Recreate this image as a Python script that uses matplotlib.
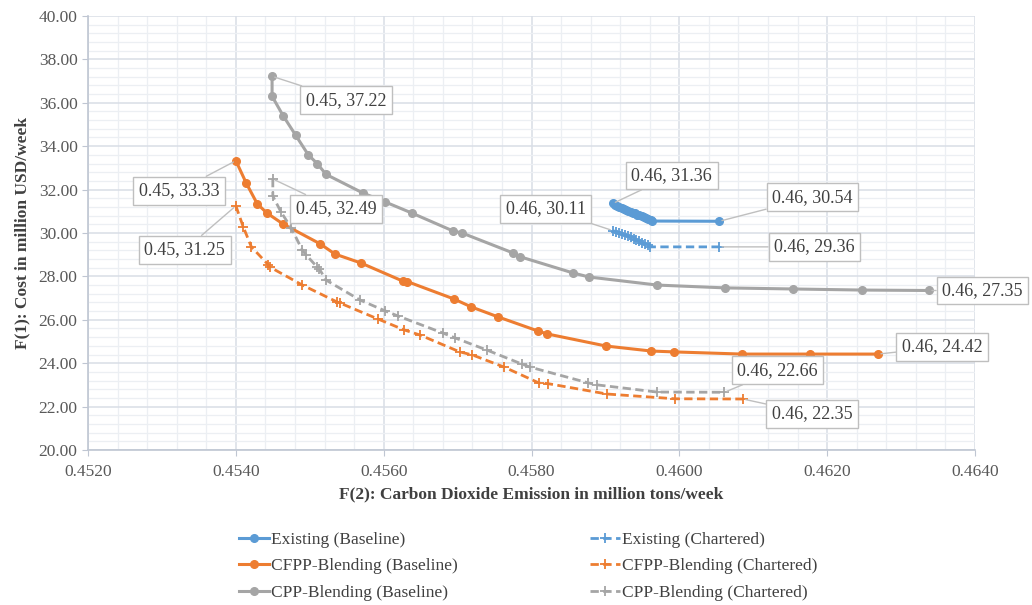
import matplotlib
matplotlib.use('Agg')
import matplotlib.pyplot as plt
from matplotlib.ticker import MultipleLocator, FormatStrFormatter

plt.rcParams['font.family'] = ['Liberation Serif', 'DejaVu Serif']

# ---- data ----
exist_base_x = [0.45910, 0.45913, 0.45916, 0.45919, 0.45922, 0.45925, 0.45928,
                0.45931, 0.45934, 0.45937, 0.45940, 0.45943, 0.45946, 0.45949,
                0.45952, 0.45955, 0.45958, 0.45961, 0.45963, 0.46054]
exist_base_y = [31.36, 31.31, 31.26, 31.21, 31.17, 31.12, 31.08,
                31.03, 30.99, 30.94, 30.90, 30.85, 30.81, 30.76,
                30.72, 30.67, 30.63, 30.58, 30.55, 30.54]

exist_chart_x = [0.45910, 0.45914, 0.45918, 0.45922, 0.45926, 0.45930, 0.45934,
                 0.45938, 0.45942, 0.45946, 0.45950, 0.45954, 0.45958, 0.45960,
                 0.46054]
exist_chart_y = [30.11, 30.06, 30.01, 29.96, 29.91, 29.86, 29.80,
                 29.74, 29.68, 29.62, 29.56, 29.50, 29.43, 29.36,
                 29.36]

cfpp_base_x = [0.45400, 0.45414, 0.45429, 0.45442, 0.45464, 0.45514, 0.45534,
               0.45569, 0.45626, 0.45632, 0.45695, 0.45718, 0.45755, 0.45809,
               0.45821, 0.45901, 0.45962, 0.45993, 0.46085, 0.46177, 0.46269]
cfpp_base_y = [33.33, 32.30, 31.34, 30.92, 30.41, 29.50, 29.03,
               28.62, 27.78, 27.76, 26.96, 26.60, 26.13, 25.48,
               25.35, 24.79, 24.56, 24.52, 24.42, 24.42, 24.42]

cfpp_chart_x = [0.45400, 0.45410, 0.45421, 0.45444, 0.45446, 0.45490, 0.45537,
                0.45541, 0.45592, 0.45628, 0.45649, 0.45703, 0.45720, 0.45763,
                0.45810, 0.45822, 0.45902, 0.45994, 0.46086]
cfpp_chart_y = [31.25, 30.28, 29.36, 28.53, 28.43, 27.60, 26.82,
                26.77, 26.04, 25.53, 25.30, 24.52, 24.38, 23.82,
                23.09, 23.06, 22.58, 22.36, 22.35]

cpp_base_x = [0.45449, 0.45449, 0.45464, 0.45481, 0.45498, 0.45510, 0.45522,
              0.45572, 0.45602, 0.45638, 0.45694, 0.45706, 0.45775, 0.45785,
              0.45856, 0.45878, 0.45970, 0.46062, 0.46154, 0.46247, 0.46338]
cpp_base_y = [37.22, 36.30, 35.40, 34.50, 33.60, 33.20, 32.70,
              31.84, 31.43, 30.92, 30.09, 30.00, 29.08, 28.90,
              28.16, 27.97, 27.60, 27.47, 27.42, 27.37, 27.35]

cpp_chart_x = [0.45450, 0.45450, 0.45461, 0.45475, 0.45490, 0.45495, 0.45510,
               0.45513, 0.45522, 0.45568, 0.45602, 0.45619, 0.45680, 0.45697,
               0.45740, 0.45787, 0.45798, 0.45877, 0.45889, 0.45970, 0.46061]
cpp_chart_y = [32.49, 31.70, 30.97, 30.23, 29.20, 28.99, 28.43,
               28.34, 27.83, 26.91, 26.41, 26.18, 25.39, 25.16,
               24.60, 23.96, 23.82, 23.09, 23.00, 22.67, 22.66]

# callouts: (x, y, label, offset in pixels)
callouts = [
    (cpp_base_x[0], cpp_base_y[0], '0.45, 37.22', (74, -24)),
    (cfpp_base_x[0], cfpp_base_y[0], '0.45, 33.33', (-57, -30)),
    (cfpp_chart_x[0], cfpp_chart_y[0], '0.45, 31.25', (-51, -44)),
    (cpp_chart_x[0], cpp_chart_y[0], '0.45, 32.49', (63, -30)),
    (exist_base_x[0], exist_base_y[0], '0.46, 31.36', (59, 28)),
    (exist_chart_x[0], exist_chart_y[0], '0.46, 30.11', (-67, 22)),
    (exist_base_x[-1], exist_base_y[-1], '0.46, 30.54', (93, 24)),
    (exist_chart_x[-1], exist_chart_y[-1], '0.46, 29.36', (95, 0)),
    (cpp_base_x[-1], cpp_base_y[-1], '0.46, 27.35', (53, 0)),
    (cfpp_base_x[-1], cfpp_base_y[-1], '0.46, 24.42', (64, 7)),
    (cpp_chart_x[-1], cpp_chart_y[-1], '0.46, 22.66', (53, 22)),
    (cfpp_chart_x[-1], cfpp_chart_y[-1], '0.46, 22.35', (69, -15)),
]

blue = '#5B9BD5'
orange = '#ED7D31'
gray = '#A5A5A5'
txt = '#404040'

fig = plt.figure(figsize=(10.32, 6.05), dpi=100)
ax = fig.add_axes([0.0853, 0.2562, 0.8595, 0.7174])

base_kw = dict(linewidth=2.2, marker='o', markersize=5.5)
chart_kw = dict(linewidth=2.0, linestyle=(0, (3, 1.6)), marker='+', markersize=7, markeredgewidth=1.3)

ax.plot(exist_base_x, exist_base_y, color=blue, label='Existing (Baseline)', **base_kw)
ax.plot(exist_chart_x, exist_chart_y, color=blue, label='Existing (Chartered)', **chart_kw)
ax.plot(cfpp_base_x, cfpp_base_y, color=orange, label='CFPP-Blending (Baseline)', **base_kw)
ax.plot(cfpp_chart_x, cfpp_chart_y, color=orange, label='CFPP-Blending (Chartered)', **chart_kw)
ax.plot(cpp_base_x, cpp_base_y, color=gray, label='CPP-Blending (Baseline)', **base_kw)
ax.plot(cpp_chart_x, cpp_chart_y, color=gray, label='CPP-Blending (Chartered)', **chart_kw)

for x, y, s, off in callouts:
    ax.annotate(s, xy=(x, y), xytext=off, textcoords='offset pixels',
                ha='center', va='center', fontsize=13, color=txt,
                bbox=dict(boxstyle='square,pad=0.3', fc='white', ec='#BFBFBF', lw=1),
                arrowprops=dict(arrowstyle='-', color='#BFBFBF', lw=1,
                                shrinkA=0, shrinkB=2))

ax.set_xlim(0.452, 0.464)
ax.set_ylim(20, 40)
ax.xaxis.set_major_locator(MultipleLocator(0.002))
ax.xaxis.set_minor_locator(MultipleLocator(0.0004))
ax.yaxis.set_major_locator(MultipleLocator(2))
ax.yaxis.set_minor_locator(MultipleLocator(0.4))
ax.xaxis.set_major_formatter(FormatStrFormatter('%.4f'))
ax.yaxis.set_major_formatter(FormatStrFormatter('%.2f'))

ax.grid(which='major', color='#D9DEE6', linewidth=1.1)
ax.grid(which='minor', color='#ECEFF3', linewidth=0.9)
ax.set_axisbelow(True)
for side in ['top', 'right']:
    ax.spines[side].set_visible(False)
for side in ['left', 'bottom']:
    ax.spines[side].set_color('#BFC6D2')
    ax.spines[side].set_linewidth(1.2)
ax.tick_params(which='major', length=4, color='#BFC6D2', labelsize=12.5, labelcolor='#595959')
ax.tick_params(which='minor', length=0)
ax.tick_params(axis='x', pad=6)

ax.set_xlabel('F(2): Carbon Dioxide Emission in million tons/week', fontsize=12.5,
              fontweight='bold', color=txt, labelpad=5)
ax.set_ylabel('F(1): Cost in million USD/week', fontsize=12.5,
              fontweight='bold', color=txt, labelpad=6)

handles, labels = ax.get_legend_handles_labels()
order = [0, 2, 4, 1, 3, 5]
leg = fig.legend([handles[i] for i in order], [labels[i] for i in order],
                 ncol=2, loc='center', bbox_to_anchor=(0.512, 0.064), frameon=False,
                 fontsize=12.5, handlelength=1.7, columnspacing=7.6, labelspacing=0.6,
                 handletextpad=0.15)
for t in leg.get_texts():
    t.set_color(txt)

fig.savefig('out.png', dpi=100)
